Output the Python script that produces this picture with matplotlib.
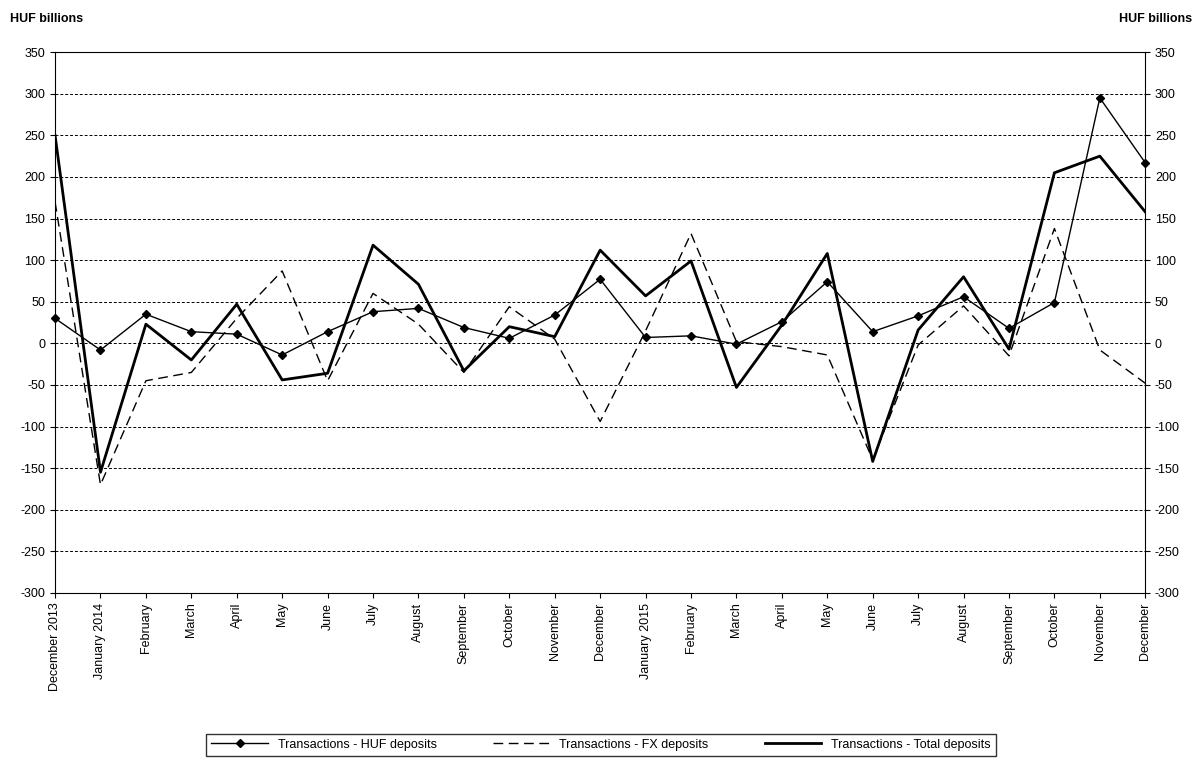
import matplotlib.pyplot as plt
import numpy as np

months = ["December 2013", "January 2014", "February", "March", "April", "May", "June",
          "July", "August", "September", "October", "November", "December", "January 2015",
          "February", "March", "April", "May", "June", "July", "August", "September",
          "October", "November", "December"]
huf = [30, -8, 35, 14, 11, -14, 14, 38, 42, 19, 6, 34, 77, 7, 9, -1, 26, 74, 14, 33, 56, 18, 49, 295, 217]
fx = [170, -170, -45, -35, 30, 87, -45, 60, 23, -35, 44, 5, -94, 15, 132, 2, -4, -14, -140, -2, 45, -15, 138, -8, -48]
total = [250, -155, 23, -20, 47, -44, -36, 118, 71, -33, 20, 8, 112, 57, 99, -53, 22, 108, -142, 16, 80, -7, 205, 225, 158]

plt.rcParams['font.family'] = ['Liberation Sans', 'DejaVu Sans']
plt.rcParams['axes.unicode_minus'] = False
fig = plt.figure(figsize=(12.02, 7.67), dpi=100)
ax = fig.add_axes([0.0458, 0.227, 0.907, 0.705])
x = np.arange(len(months))

ax.plot(x, huf, color='black', lw=1, marker='D', ms=4, clip_on=False, label='Transactions - HUF deposits')
ax.plot(x, fx, color='black', lw=1, ls=(0, (7, 4)), label='Transactions - FX deposits')
ax.plot(x, total, color='black', lw=2, label='Transactions - Total deposits')

ax.set_xlim(0, len(months) - 1)
ax.set_ylim(-300, 350)
ax.set_yticks(range(-300, 351, 50))
ax.set_xticks(x)
ax.set_xticklabels(months, rotation=90, fontsize=9)
ax.tick_params(axis='y', labelsize=9, right=True, labelright=True)
ax.grid(axis='y', color='black', ls=(0, (3, 2)), lw=0.7)
for s in ax.spines.values():
    s.set_linewidth(0.8)

fig.text(0.008, 0.975, 'HUF billions', fontsize=9, fontweight='bold', va='center')
fig.text(0.992, 0.975, 'HUF billions', fontsize=9, fontweight='bold', va='center', ha='right')

fig.legend(loc='center', bbox_to_anchor=(0.5, 0.029), ncol=3, fontsize=9, frameon=True,
           fancybox=False, edgecolor='black', handlelength=4.5, columnspacing=4.5)

fig.savefig('out.png', dpi=100)
